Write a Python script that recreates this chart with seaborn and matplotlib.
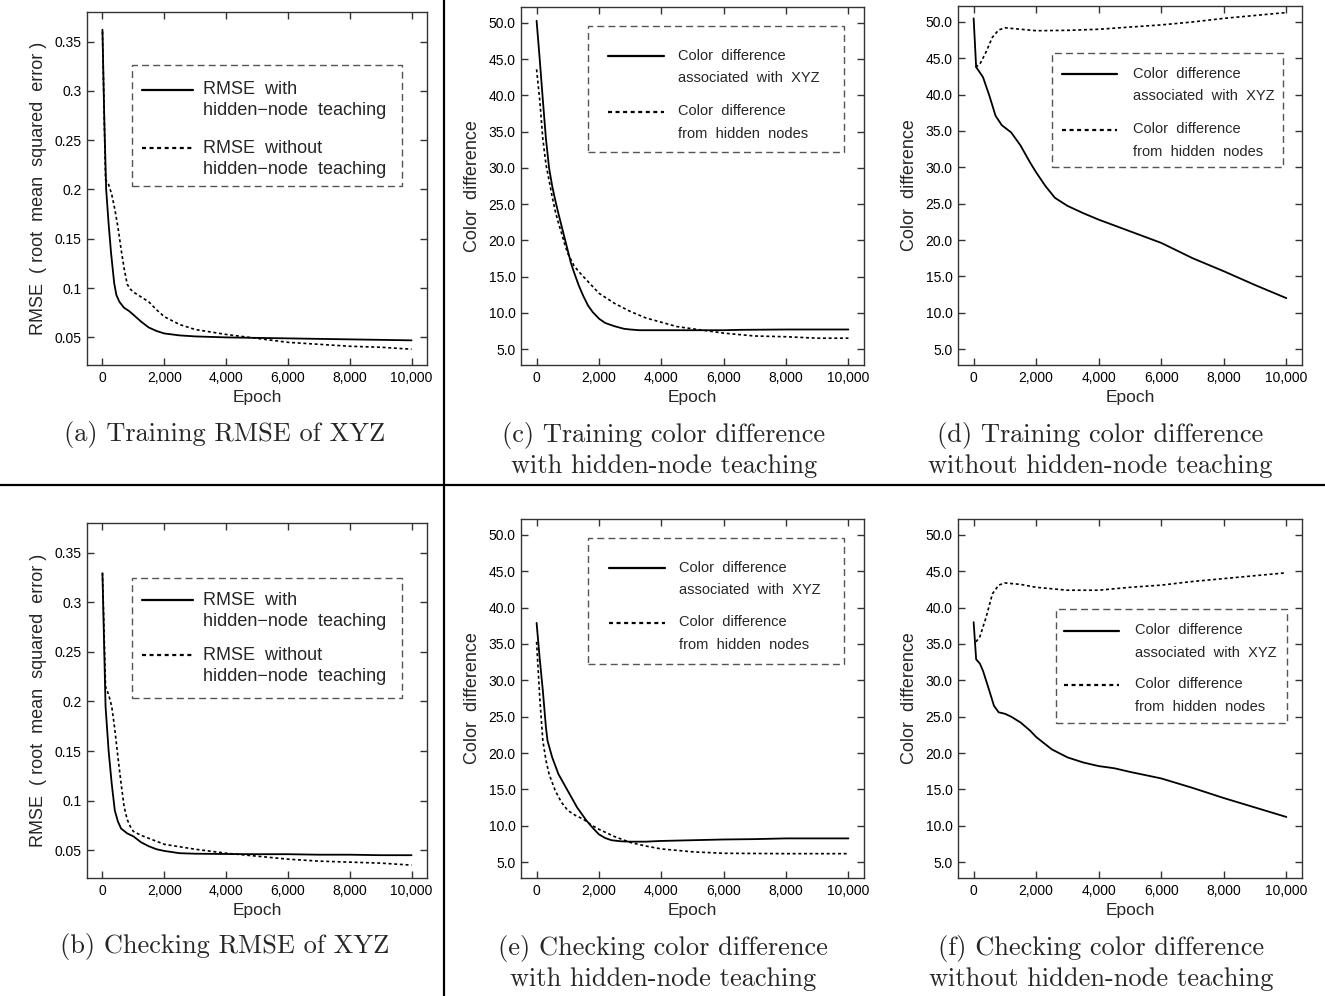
import matplotlib
matplotlib.use('Agg')
import matplotlib.pyplot as plt
import seaborn as sns
import numpy as np
from matplotlib.patches import Rectangle
from matplotlib.lines import Line2D

sns.set_style('ticks')
plt.rcParams['font.family'] = ['Liberation Sans', 'DejaVu Sans']
plt.rcParams['axes.edgecolor'] = '#333333'
plt.rcParams['xtick.color'] = '#333333'
plt.rcParams['ytick.color'] = '#333333'
plt.rcParams['xtick.labelcolor'] = 'black'
plt.rcParams['ytick.labelcolor'] = 'black'

# ---- data ----
x_ticks = [0, 2000, 4000, 6000, 8000, 10000]
x_tick_labels = ['0', '2,000', '4,000', '6,000', '8,000', '10,000']
rmse_ticks = [0.05, 0.1, 0.15, 0.2, 0.25, 0.3, 0.35]
rmse_tick_labels = ['0.05', '0.1', '0.15', '0.2', '0.25', '0.3', '0.35']
cd_ticks = [5, 10, 15, 20, 25, 30, 35, 40, 45, 50]
cd_tick_labels = ['5.0', '10.0', '15.0', '20.0', '25.0', '30.0', '35.0', '40.0', '45.0', '50.0']

# (a) training RMSE
a_with_x = [0, 60, 120, 200, 280, 380, 450, 550, 700, 850, 1000, 1250, 1500, 1750, 2000, 2500, 3000, 4000, 5000, 6000, 7000, 8000, 9000, 10000]
a_with_y = [0.362, 0.270, 0.200, 0.165, 0.135, 0.105, 0.093, 0.086, 0.080, 0.077, 0.073, 0.066, 0.060, 0.0565, 0.054, 0.052, 0.051, 0.050, 0.0495, 0.049, 0.0485, 0.048, 0.0475, 0.047]
a_wo_x = [0, 100, 200, 300, 400, 500, 600, 700, 800, 900, 1000, 1250, 1500, 1750, 2000, 2500, 3000, 4000, 5000, 6000, 7000, 8000, 9000, 10000]
a_wo_y = [0.360, 0.210, 0.205, 0.195, 0.180, 0.162, 0.140, 0.120, 0.104, 0.099, 0.096, 0.091, 0.086, 0.078, 0.071, 0.063, 0.058, 0.053, 0.049, 0.045, 0.043, 0.041, 0.040, 0.038]

# (b) checking RMSE
b_with_x = [0, 100, 200, 300, 400, 500, 600, 800, 1000, 1250, 1500, 1750, 2000, 2500, 3000, 4000, 5000, 6000, 7000, 8000, 9000, 10000]
b_with_y = [0.329, 0.195, 0.150, 0.117, 0.090, 0.079, 0.072, 0.067, 0.064, 0.058, 0.054, 0.051, 0.0493, 0.047, 0.0465, 0.0462, 0.046, 0.046, 0.0455, 0.0455, 0.045, 0.045]
b_wo_x = [0, 100, 200, 300, 400, 500, 600, 700, 800, 900, 1000, 1250, 1500, 2000, 3000, 4000, 5000, 6000, 7000, 8000, 9000, 10000]
b_wo_y = [0.330, 0.215, 0.207, 0.195, 0.172, 0.144, 0.118, 0.094, 0.081, 0.074, 0.069, 0.065, 0.062, 0.056, 0.051, 0.047, 0.044, 0.041, 0.039, 0.038, 0.037, 0.035]

# (c) training colour difference, with teaching
c_xyz_x = [0, 100, 200, 300, 400, 500, 600, 700, 800, 900, 1000, 1100, 1200, 1350, 1500, 1650, 1800, 2000, 2200, 2500, 2800, 3000, 3300, 4000, 5000, 6000, 6500, 8000, 10000]
c_xyz_y = [50.3, 45.0, 39.4, 34.0, 30.0, 27.5, 25.5, 23.7, 22.0, 20.3, 18.6, 16.9, 15.6, 13.8, 12.3, 11.0, 10.1, 9.2, 8.6, 8.15, 7.8, 7.7, 7.6, 7.6, 7.6, 7.6, 7.65, 7.7, 7.7]
c_hid_x = [0, 100, 200, 300, 400, 500, 600, 700, 800, 900, 1000, 1200, 1350, 1500, 2000, 2500, 3000, 3500, 4000, 4500, 5000, 6000, 7000, 8000, 9000, 10000]
c_hid_y = [43.6, 39.4, 34.0, 30.5, 28.3, 26.0, 24.0, 22.4, 21.0, 19.5, 18.2, 16.5, 15.7, 15.0, 12.7, 11.3, 10.2, 9.3, 8.7, 8.1, 7.8, 7.2, 6.8, 6.7, 6.5, 6.5]

# (d) training colour difference, without teaching
d_xyz_x = [0, 80, 300, 500, 700, 900, 1200, 1500, 1800, 2000, 2300, 2600, 3000, 3500, 4000, 4500, 5000, 6000, 7000, 8000, 9000, 10000]
d_xyz_y = [50.5, 43.8, 42.4, 39.9, 37.1, 35.8, 34.8, 33.0, 30.7, 29.3, 27.4, 25.8, 24.7, 23.7, 22.8, 22.0, 21.2, 19.6, 17.5, 15.7, 13.8, 12.0]
d_hid_x = [60, 200, 400, 600, 800, 1000, 1500, 2000, 3000, 4000, 5000, 6000, 7000, 8000, 9000, 10000]
d_hid_y = [43.8, 44.2, 45.9, 47.9, 48.9, 49.2, 49.0, 48.8, 48.85, 49.0, 49.3, 49.6, 50.0, 50.5, 50.9, 51.3]

# (e) checking colour difference, with teaching
e_xyz_x = [0, 100, 200, 300, 350, 500, 700, 1000, 1300, 1600, 1800, 2000, 2200, 2400, 2700, 3000, 3500, 4000, 5000, 6000, 7000, 8000, 10000]
e_xyz_y = [37.9, 33.0, 28.6, 23.5, 21.7, 19.4, 17.1, 14.8, 12.5, 10.7, 9.7, 8.8, 8.3, 8.0, 7.85, 7.8, 7.8, 7.9, 8.0, 8.1, 8.15, 8.25, 8.25]
e_hid_x = [0, 100, 200, 300, 400, 600, 800, 1000, 1250, 1500, 1750, 2000, 2500, 3000, 3500, 4000, 5000, 6000, 8000, 10000]
e_hid_y = [35.3, 27.7, 21.7, 19.0, 17.1, 14.8, 13.2, 12.1, 11.4, 10.9, 10.1, 9.5, 8.5, 7.7, 7.2, 6.8, 6.4, 6.2, 6.15, 6.15]

# (f) checking colour difference, without teaching
f_xyz_x = [0, 80, 200, 300, 500, 650, 800, 1000, 1200, 1500, 1800, 2000, 2500, 3000, 3500, 4000, 4500, 5000, 6000, 7000, 8000, 9000, 10000]
f_xyz_y = [38.0, 32.9, 32.3, 31.3, 28.6, 26.5, 25.6, 25.4, 25.0, 24.2, 23.1, 22.2, 20.5, 19.4, 18.7, 18.2, 17.9, 17.4, 16.5, 15.2, 13.8, 12.5, 11.2]
f_hid_x = [75, 200, 400, 600, 800, 1000, 1500, 2000, 3000, 4000, 5000, 6000, 7000, 8000, 9000, 10000]
f_hid_y = [35.3, 36.0, 38.7, 41.9, 43.1, 43.4, 43.2, 42.8, 42.4, 42.4, 42.8, 43.1, 43.6, 44.0, 44.4, 44.8]

MINUS = '\u2212'
rmse_labels = ['RMSE  with\nhidden' + MINUS + 'node  teaching',
               'RMSE  without\nhidden' + MINUS + 'node  teaching']
cd_labels = ['Color  difference\nassociated  with  XYZ',
             'Color  difference\nfrom  hidden  nodes']

captions = {
    'a': '(a) Training RMSE of XYZ',
    'b': '(b) Checking RMSE of XYZ',
    'c': '(c) Training color difference\nwith hidden-node teaching',
    'd': '(d) Training color difference\nwithout hidden-node teaching',
    'e': '(e) Checking color difference\nwith hidden-node teaching',
    'f': '(f) Checking color difference\nwithout hidden-node teaching',
}

W, H = 1325, 996
fig = plt.figure(figsize=(W / 100, H / 100), dpi=100)


def add_ax(l, r, t, b):
    return fig.add_axes([l / W, 1 - b / H, (r - l) / W, (b - t) / H])


DOT = (0, (1.8, 1.6))


def panel(ax, s1, s2, kind, ylabel, leg_labels, box, leg_anchor, leg_font,
          hlen, hpad, lspace, tlines, hshift):
    sns.lineplot(x=s1[0], y=s1[1], ax=ax, color='black', lw=1.3,
                 label=leg_labels[0], sort=False)
    sns.lineplot(x=s2[0], y=s2[1], ax=ax, color='black', lw=1.2,
                 linestyle=DOT, label=leg_labels[1], sort=False)
    ax.set_xlim(-500, 10500)
    ax.set_xticks(x_ticks)
    ax.set_xticklabels(x_tick_labels)
    if kind == 'rmse':
        ax.set_ylim(0.022, 0.38)
        ax.set_yticks(rmse_ticks)
        ax.set_yticklabels(rmse_tick_labels)
    else:
        ax.set_ylim(2.8, 52.2)
        ax.set_yticks(cd_ticks)
        ax.set_yticklabels(cd_tick_labels)
    ax.tick_params(direction='in', length=5, width=1, top=True, right=True,
                   labelsize=10, pad=4)
    for sp in ax.spines.values():
        sp.set_linewidth(1.0)
    ax.set_xlabel('Epoch', fontsize=12.5, labelpad=4)
    ax.set_ylabel(ylabel, fontsize=13, labelpad=5)
    # dashed legend frame
    x0, y0, x1, y1 = box
    ax.add_patch(Rectangle((x0, y0), x1 - x0, y1 - y0, transform=ax.transAxes,
                           fill=False, edgecolor='#555555', lw=1.0,
                           linestyle=(0, (5, 3)), zorder=3))
    leg = ax.legend(loc='upper left', bbox_to_anchor=leg_anchor, frameon=False,
                    fontsize=leg_font, handlelength=hlen, handletextpad=hpad,
                    labelspacing=lspace, borderpad=0, borderaxespad=0)
    for t in leg.get_texts():
        t.set_linespacing(tlines)
    # put each handle beside the first line of its label
    for ln in leg.get_lines():
        ln.set_linewidth(1.6)
        ln.set_ydata(np.asarray(ln.get_ydata(), dtype=float) + hshift)
    return leg


ax_a = add_ax(87, 427, 12, 365)
panel(ax_a, (a_with_x, a_with_y), (a_wo_x, a_wo_y), 'rmse',
      'RMSE  ( root  mean  squared  error )', rmse_labels,
      (0.132, 0.507, 0.926, 0.850), (0.162, 0.804), 13, 2.8, 0.6, 1.13, 1.32, 7.8)

ax_c = add_ax(521, 864, 7, 365)
panel(ax_c, (c_xyz_x, c_xyz_y), (c_hid_x, c_hid_y), 'cd',
      'Color  difference', cd_labels,
      (0.195, 0.595, 0.942, 0.947), (0.254, 0.884), 10.5, 3.8, 1.0, 1.27, 1.8, 7.9)

ax_d = add_ax(958, 1302, 6, 365)
panel(ax_d, (d_xyz_x, d_xyz_y), (d_hid_x, d_hid_y), 'cd',
      'Color  difference', cd_labels,
      (0.273, 0.552, 0.945, 0.869), (0.302, 0.831), 10.5, 3.8, 1.1, 1.27, 1.8, 7.9)

ax_b = add_ax(87, 427, 523, 878)
panel(ax_b, (b_with_x, b_with_y), (b_wo_x, b_wo_y), 'rmse',
      'RMSE  ( root  mean  squared  error )', rmse_labels,
      (0.132, 0.507, 0.926, 0.845), (0.162, 0.807), 13, 2.8, 0.6, 0.95, 1.32, 7.8)

ax_e = add_ax(521, 864, 519, 878)
panel(ax_e, (e_xyz_x, e_xyz_y), (e_hid_x, e_hid_y), 'cd',
      'Color  difference', cd_labels,
      (0.195, 0.596, 0.942, 0.947), (0.257, 0.884), 10.5, 3.8, 1.0, 1.2, 1.8, 7.9)

ax_f = add_ax(958, 1302, 519, 878)
panel(ax_f, (f_xyz_x, f_xyz_y), (f_hid_x, f_hid_y), 'cd',
      'Color  difference', cd_labels,
      (0.285, 0.432, 0.956, 0.749), (0.308, 0.711), 10.5, 3.8, 1.1, 1.2, 1.8, 7.9)

# captions (Computer Modern like the source)
cap_pos = {'a': (225, 435), 'c': (664, 450), 'd': (1100, 450),
           'b': (225, 946), 'e': (663, 963), 'f': (1101, 963)}
for k, (cx, cy) in cap_pos.items():
    fig.text(cx / W, 1 - cy / H, captions[k], family='cmr10', fontsize=19,
             ha='center', va='center', linespacing=1.26)

# separator rules
fig.add_artist(Line2D([444 / W, 444 / W], [0, 1], color='black', lw=1.6))
fig.add_artist(Line2D([0, 1], [1 - 485 / H, 1 - 485 / H], color='black', lw=1.6))

fig.savefig('out.png', dpi=100)
